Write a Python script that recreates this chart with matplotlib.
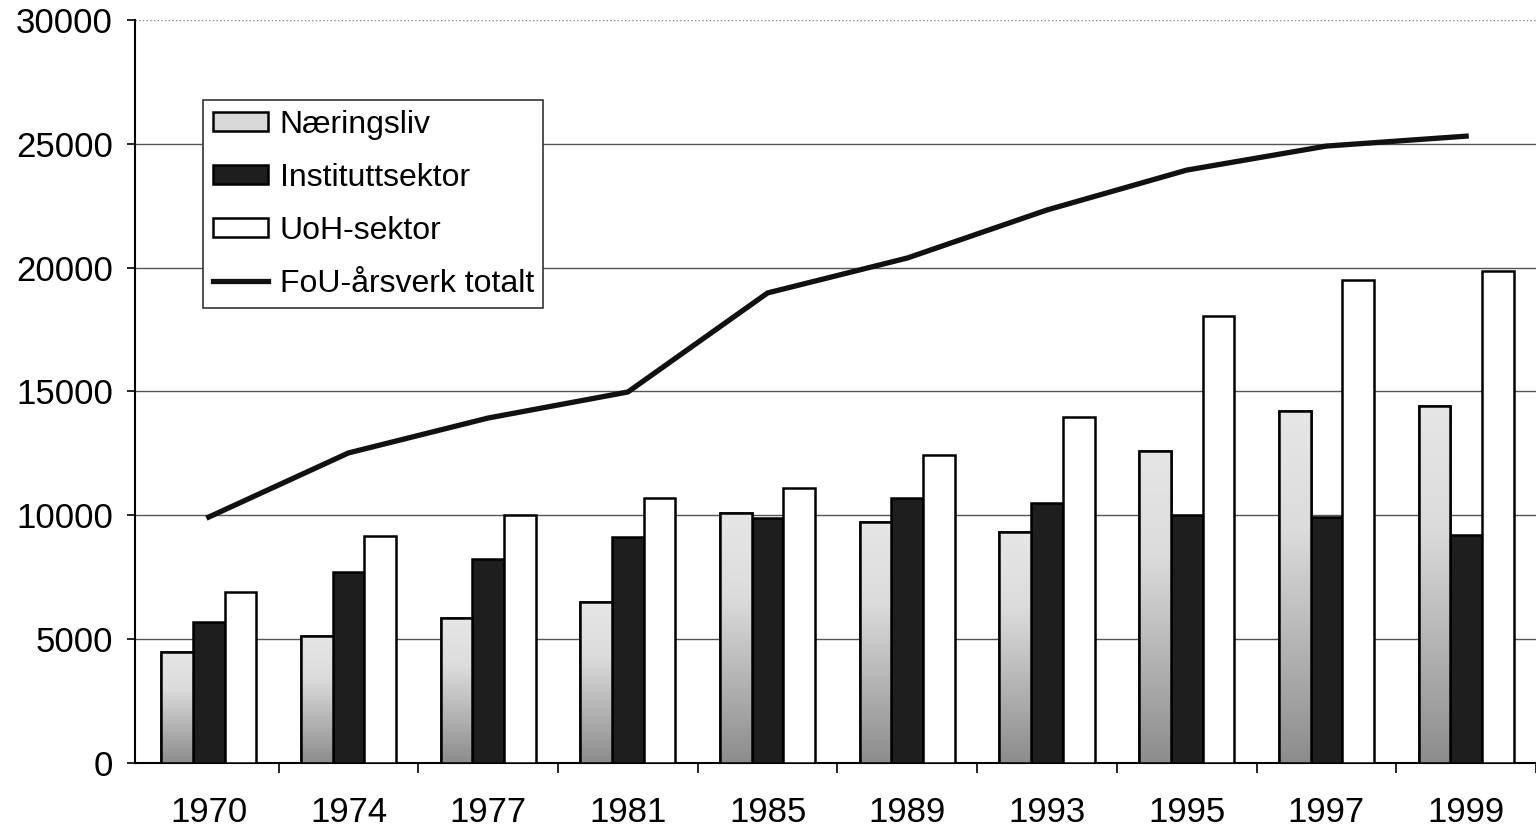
import numpy as np
import matplotlib
matplotlib.use("Agg")
import matplotlib.pyplot as plt
from matplotlib.colors import LinearSegmentedColormap

plt.rcParams['font.family'] = ['Liberation Sans', 'DejaVu Sans']

years = ["1970", "1974", "1977", "1981", "1985", "1989", "1993", "1995", "1997", "1999"]
naeringsliv = [4500, 5130, 5850, 6500, 10080, 9730, 9330, 12600, 14200, 14400]
institutt = [5690, 7700, 8230, 9120, 9890, 10700, 10500, 10010, 9930, 9200]
uoh = [6900, 9160, 10010, 10700, 11100, 12430, 13970, 18050, 19500, 19860]
totalt = [9930, 12520, 13930, 14980, 18980, 20390, 22330, 23940, 24910, 25310]

fig = plt.figure(figsize=(15.36, 8.32), dpi=100)
ax = fig.add_axes([135 / 1536, 69 / 832, 1401 / 1536, 743 / 832])

x = np.arange(len(years))
w = 0.227

# gradient for Næringsliv bars (light on top, dark at bottom)
cmap = LinearSegmentedColormap.from_list("grad", ["#8c8c8c", "#b4b4b4", "#dcdcdc", "#e6e6e6"])
grad = np.linspace(0, 1, 256).reshape(-1, 1)

bars_n = ax.bar(x - w, naeringsliv, w, color="#d9d9d9", edgecolor="black", linewidth=1.8,
                label="Næringsliv", zorder=3)
for b in bars_n:
    x0, y0 = b.get_x(), b.get_y()
    im = ax.imshow(grad, cmap=cmap, aspect="auto", origin="lower",
                   extent=(x0, x0 + b.get_width(), y0, y0 + b.get_height()), zorder=3.1)
    im.set_clip_path(b)
    # kant over gradienten
    ax.bar(x0 + b.get_width() / 2, b.get_height(), b.get_width(), fill=False,
           edgecolor="black", linewidth=1.8, zorder=3.2)

bars_i = ax.bar(x, institutt, w, color="#1e1e1e", edgecolor="black", linewidth=1.8,
                label="Instituttsektor", zorder=3)
bars_u = ax.bar(x + w, uoh, w, color="white", edgecolor="black", linewidth=1.8,
                label="UoH-sektor", zorder=3)
line, = ax.plot(x, totalt, color="#111111", linewidth=3.8, label="FoU-årsverk totalt", zorder=4)

ax.set_xlim(-0.528, 9.40)
ax.set_ylim(0, 30000)
ax.set_yticks(np.arange(0, 30001, 5000))
ax.tick_params(axis="y", labelsize=25, length=6, width=1.2, pad=10)
ax.set_xticks(x)
ax.set_xticklabels(years)
ax.tick_params(axis="x", which="major", labelsize=25, length=0, pad=24)
ax.set_xticks(np.arange(0.5, 9.6, 1), minor=True)
ax.tick_params(axis="x", which="minor", length=7, width=1.2, direction="out")

ax.yaxis.grid(True, color="#555555", linewidth=1.0, zorder=0)
top_grid = ax.get_ygridlines()[-1]
top_grid.set_linestyle(":")
top_grid.set_color("#888888")
ax.set_axisbelow(True)
for s in ["top", "right"]:
    ax.spines[s].set_visible(False)
ax.spines["left"].set_linewidth(1.5)
ax.spines["bottom"].set_linewidth(1.5)

leg = ax.legend([bars_n, bars_i, bars_u, line],
                ["Næringsliv", "Instituttsektor", "UoH-sektor", "FoU-årsverk totalt"],
                loc="upper left", bbox_to_anchor=(0.0485, 0.892), borderaxespad=0,
                fontsize=23, fancybox=False, framealpha=1, edgecolor="#333333",
                handlelength=1.75, handleheight=0.55, handletextpad=0.35, labelspacing=0.72,
                borderpad=0.3)
leg.get_frame().set_linewidth(1.2)
leg.set_zorder(5)

fig.savefig("out.png", dpi=100)
